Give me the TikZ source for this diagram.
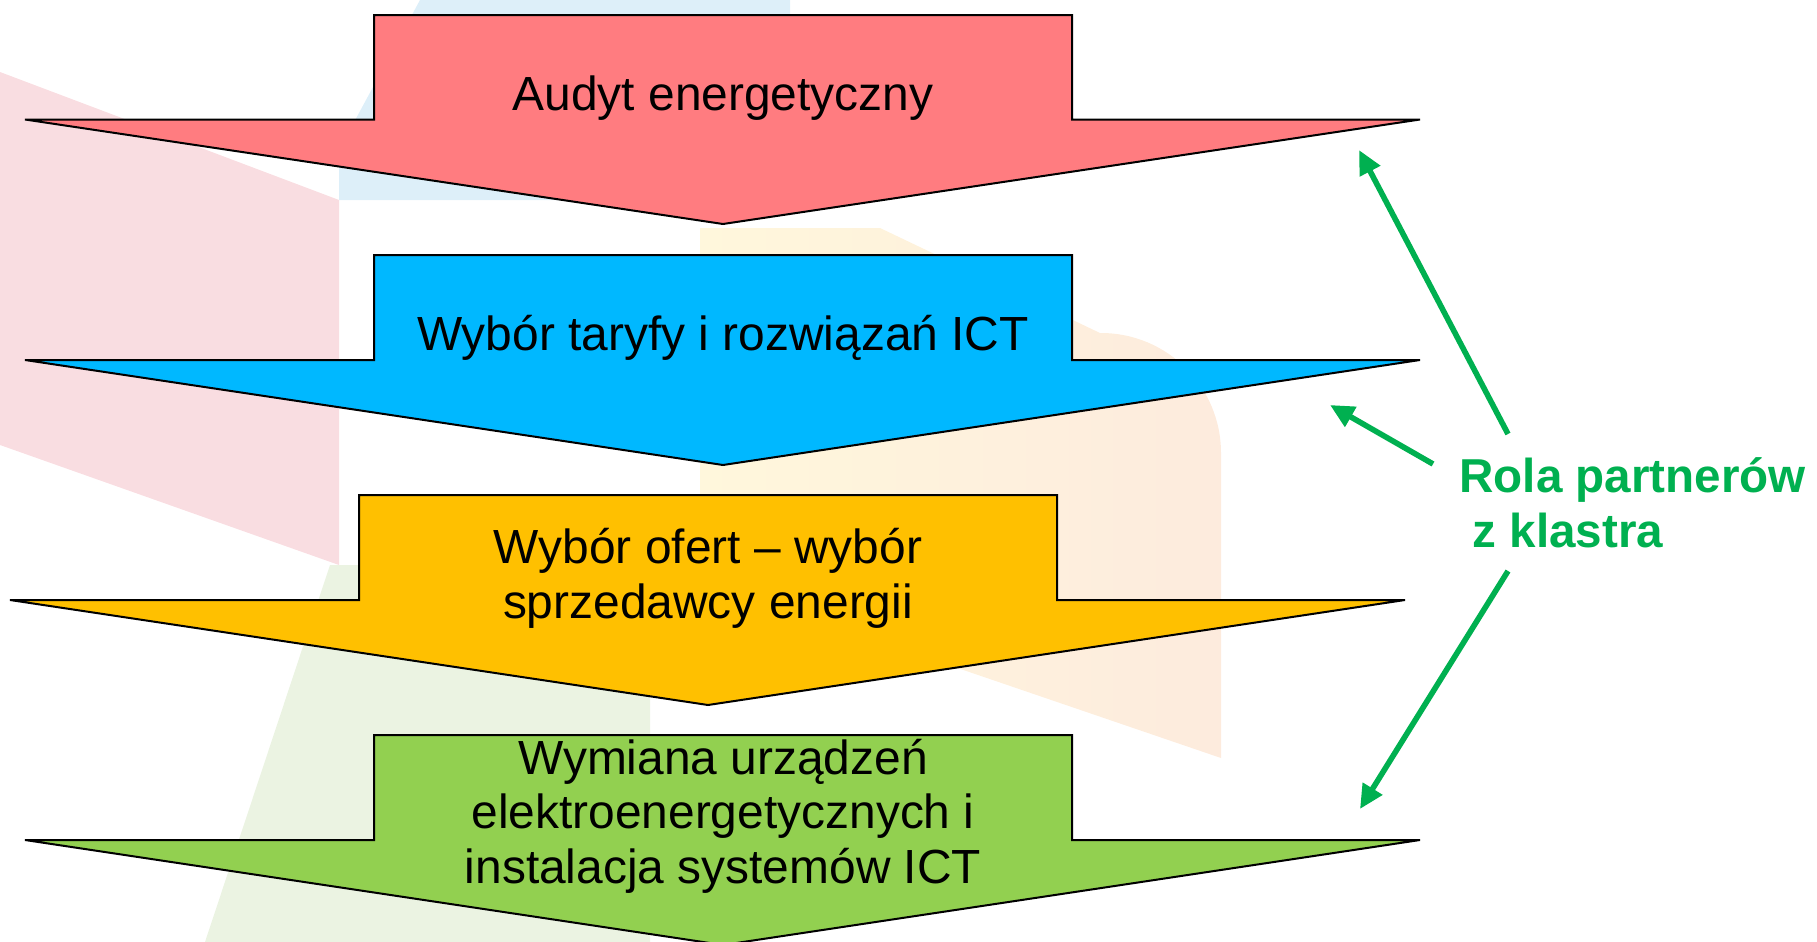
\documentclass[tikz,border=0pt]{standalone}
\usepackage{fontspec}
\setmainfont{Liberation Sans}
\usetikzlibrary{arrows.meta}
\usetikzlibrary{positioning}

\definecolor{audytred}{HTML}{FF7C80}
\definecolor{taryfablue}{HTML}{00B8FF}
\definecolor{ofertaorange}{HTML}{FFC000}
\definecolor{wymianagreen}{HTML}{92D050}
\definecolor{klastergreen}{HTML}{00B050}
\definecolor{bgpink}{HTML}{F9DDE1}
\definecolor{bgblue}{HTML}{DDEFF9}
\definecolor{bgyellow}{HTML}{FFF7DC}
\definecolor{bgpeach}{HTML}{FDEBDD}
\definecolor{bggreen}{HTML}{EBF3E2}

\begin{document}
\begin{tikzpicture}[x=0.5pt, y=-0.5pt,
    stage/.style={draw=black, line width=1pt, line join=miter},
    stagetext/.style={font=\fontsize{23.95}{27.2}\selectfont, align=center, inner sep=0pt, anchor=base},
    roletext/.style={font=\bfseries\fontsize{23.8}{27.5}\selectfont, klastergreen, align=left, inner sep=0pt, anchor=base west},
    partner/.style={klastergreen, line width=2.8pt, -{Triangle[length=12pt, width=11pt]}}]

  \useasboundingbox (0,0) rectangle (1817,942);

  % faint logo in the background
  \fill[bgpink] (0,72) -- (339,200) -- (339,565) -- (0,445) -- cycle;
  \fill[bgblue] (420,0) -- (790,0) -- (790,200) -- (339,200) -- (339,150) -- cycle;
  \shade[left color=bgyellow, right color=bgpeach] (700,228) -- (880,228) -- (1100,333) [rounded corners=60pt] -- (1221,333) [sharp corners] -- (1221,758) -- (700,580) -- cycle;
  \fill[bggreen] (330,565) -- (650,565) -- (650,942) -- (205,942) -- cycle;

  % stages
  \draw[stage, fill=audytred] (374,15) -- (1072,15) -- (1072,119.5) -- (1420,119.5) -- (723,224) -- (25,119.5) -- (374,119.5) -- cycle;
  \draw[stage, fill=taryfablue] (374,255) -- (1072,255) -- (1072,360) -- (1420,360) -- (723,465) -- (25,360) -- (374,360) -- cycle;
  \draw[stage, fill=ofertaorange] (359,495) -- (1057,495) -- (1057,600) -- (1405,600) -- (708,705) -- (10,600) -- (359,600) -- cycle;
  \draw[stage, fill=wymianagreen] (374,735) -- (1072,735) -- (1072,840) -- (1420,840) -- (723,945) -- (25,840) -- (374,840) -- cycle;

  \node[stagetext] (audyt) at (723,110) {Audyt energetyczny};
  \node[stagetext] (taryfa) at (723,350) {Wybór taryfy i rozwiązań ICT};
  \node[stagetext] (oferty) at (708,618) {Wybór ofert – wybór\\sprzedawcy energii};
  \node[stagetext] (wymiana) at (723,883) {Wymiana urządzeń\\elektroenergetycznych i\\instalacja systemów ICT};

  % partners
  \node[roletext] (rola) at (1459,547) {Rola partnerów\\\hspace*{0.28em}z klastra};

  \coordinate (rola_up) at (1508,434);
  \coordinate (rola_mid) at (1433,464);
  \coordinate (rola_down) at (1508,571);
  \coordinate (tip_audyt) at (1359,150);
  \coordinate (tip_taryfa) at (1330,405);
  \coordinate (tip_wymiana) at (1360,809);

  \draw[partner] (rola_up) -- (tip_audyt);
  \draw[partner] (rola_mid) -- (tip_taryfa);
  \draw[partner] (rola_down) -- (tip_wymiana);
\end{tikzpicture}
\end{document}
